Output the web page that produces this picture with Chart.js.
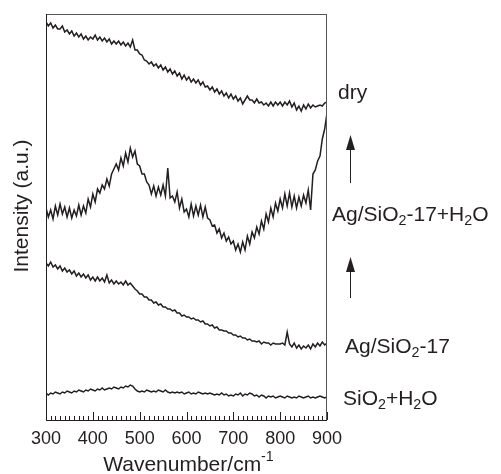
<!DOCTYPE html>
<html>
<head>
<meta charset="utf-8">
<script src="https://cdn.jsdelivr.net/npm/chart.js@4.4.1/dist/chart.umd.min.js"></script>
<style>
  body { margin: 0; background: #fff; }
  canvas { display: block; }
</style>
</head>
<body>
<canvas id="chart" width="501" height="474"></canvas>
<script>
// wavenumber grid (cm-1), one point every 5
const wavenumbers = [
  300,305,310,315,320,325,330,335,340,345,350,355,360,365,370,375,380,385,390,395,
  400,405,410,415,420,425,430,435,440,445,450,455,460,465,470,475,480,485,490,495,
  500,505,510,515,520,525,530,535,540,545,550,555,560,565,570,575,580,585,590,595,
  600,605,610,615,620,625,630,635,640,645,650,655,660,665,670,675,680,685,690,695,
  700,705,710,715,720,725,730,735,740,745,750,755,760,765,770,775,780,785,790,795,
  800,805,810,815,820,825,830,835,840,845,850,855,860,865,870,875,880,885,890,895,
  900
];

// intensities, arbitrary units (stacked offsets already included)
const dry = [
  398,394,397,392,395,391,391,394,388,390,386,389,384,387,383,386,381,384,380,383,
  381,385,380,383,379,382,378,381,376,379,376,379,375,378,374,377,373,380,370,370,
  366,365,360,359,356,358,354,356,352,355,350,353,348,351,346,349,344,347,341,345,
  340,343,338,341,337,340,335,338,333,334,330,333,328,331,326,329,324,327,322,326,
  321,324,319,322,316,320,324,320,320,317,321,317,318,315,317,314,318,314,318,315,
  318,314,318,315,319,313,317,310,314,309,315,311,316,312,315,313,314,315,314,317,
  318
];
const agSiO2Water = [
  212,203,210,201,214,205,216,206,213,203,212,202,210,204,215,205,214,207,221,213,
  226,218,231,227,235,231,241,234,246,251,256,250,262,254,267,258,272,263,269,256,
  254,246,246,238,235,226,234,224,233,225,235,224,252,222,224,218,228,212,221,208,
  211,203,216,204,214,205,215,203,213,202,200,194,195,187,191,182,187,179,183,176,
  179,170,176,168,178,170,184,176,188,182,193,186,199,191,206,198,212,203,217,209,
  221,212,226,214,227,213,224,212,223,214,225,217,230,210,246,250,259,264,281,291,
  307
];
const agSiO2 = [
  157,154,158,153,155,151,154,149,152,148,150,146,149,144,147,143,146,142,145,140,
  143,139,143,139,142,138,145,137,140,136,139,136,138,135,139,135,137,134,131,129,
  126,126,123,123,120,120,117,118,115,116,113,113,111,111,109,110,107,107,104,105,
  103,103,101,102,100,100,98,99,96,96,94,95,92,93,90,90,89,89,87,87,
  85,85,83,84,82,82,80,81,79,79,78,79,76,78,77,77,75,77,76,76,
  76,77,75,88,76,73,77,72,75,71,74,72,75,71,76,73,77,74,78,75,
  77
];
const sio2Water = [
  27,25,27,26,28,27,26,28,27,29,28,27,29,28,30,29,28,30,29,31,
  30,29,31,30,32,30,31,32,31,33,32,31,33,32,34,33,35,34,31,29,
  28,29,28,30,29,28,29,28,30,29,28,30,28,27,28,27,28,27,28,26,
  27,28,26,27,26,28,27,26,27,26,27,26,25,26,25,27,25,26,24,25,
  24,26,25,27,24,26,25,27,26,24,25,23,25,24,22,24,23,24,22,23,
  24,23,22,24,23,22,23,22,24,23,22,23,24,22,23,22,23,24,23,22,
  23
];

const xTickLabels = [300, 400, 500, 600, 700, 800, 900];
const xMinorStep = 10;

// right-hand labels: text segments, y value where they sit
const curveLabels = [
  { parts: [['dry']], y: 327, dx: 11 },
  { parts: [['Ag/SiO'], ['2', 'sub'], ['-17+H'], ['2', 'sub'], ['O']], y: 205, dx: 5 },
  { parts: [['Ag/SiO'], ['2', 'sub'], ['-17']], y: 73, dx: 18 },
  { parts: [['SiO'], ['2', 'sub'], ['+H'], ['2', 'sub'], ['O']], y: 21, dx: 16 }
];
// arrows between labels (y values: from -> to)
const arrows = [
  { from: 237, to: 285 },
  { from: 122, to: 163 }
];

const FONT = '"Liberation Sans", Arial, sans-serif';
const INK = '#231f20';
const LABEL_SIZE = 21;

function toPoints(ys) {
  return wavenumbers.map((w, i) => ({ x: w, y: ys[i] }));
}

function drawParts(ctx, parts, x, y, size) {
  let cx = x;
  parts.forEach(([t, kind]) => {
    let s = size, dy = 0;
    if (kind === 'sub') { s = size * 0.68; dy = size * 0.28; }
    if (kind === 'sup') { s = size * 0.68; dy = -size * 0.38; }
    ctx.font = s + 'px ' + FONT;
    ctx.fillText(t, cx, y + dy);
    cx += ctx.measureText(t).width;
  });
  return cx - x;
}

function measureParts(ctx, parts, size) {
  let w = 0;
  parts.forEach(([t, kind]) => {
    const s = kind ? size * 0.68 : size;
    ctx.font = s + 'px ' + FONT;
    w += ctx.measureText(t).width;
  });
  return w;
}

const decorations = {
  id: 'decorations',
  afterDraw(chart) {
    const ctx = chart.ctx;
    const area = chart.chartArea;
    const xs = chart.scales.x;
    const ys = chart.scales.y;
    ctx.save();

    // frame
    ctx.strokeStyle = '#555';
    ctx.lineWidth = 1;
    ctx.strokeRect(area.left + 0.5, area.top + 0.5, area.right - area.left - 1, area.bottom - area.top);
    ctx.strokeStyle = INK;
    ctx.beginPath();
    ctx.moveTo(area.left + 0.5, area.top);
    ctx.lineTo(area.left + 0.5, area.bottom + 0.5);
    ctx.lineTo(area.right, area.bottom + 0.5);
    ctx.stroke();

    // inward ticks on the x axis
    ctx.beginPath();
    for (let w = xs.min; w <= xs.max; w += xMinorStep) {
      const px = Math.round(xs.getPixelForValue(w)) + 0.5;
      const len = (w % 100 === 0) ? 8 : 4;
      ctx.moveTo(px, area.bottom);
      ctx.lineTo(px, area.bottom - len);
    }
    ctx.stroke();

    // tick labels
    ctx.fillStyle = INK;
    ctx.font = '18px ' + FONT;
    ctx.textAlign = 'center';
    ctx.textBaseline = 'middle';
    xTickLabels.forEach(v => {
      ctx.fillText(String(v), xs.getPixelForValue(v), area.bottom + 19);
    });

    // x title with superscript
    ctx.textAlign = 'left';
    const xTitle = [['Wavenumber/cm'], ['-1', 'sup']];
    const tw = measureParts(ctx, xTitle, LABEL_SIZE);
    drawParts(ctx, xTitle, (area.left + area.right) / 2 - tw / 2 + 2, area.bottom + 45, LABEL_SIZE);

    // y title
    ctx.save();
    ctx.translate(22, (area.top + area.bottom) / 2 - 11);
    ctx.rotate(-Math.PI / 2);
    ctx.textAlign = 'center';
    ctx.font = LABEL_SIZE + 'px ' + FONT;
    ctx.fillText('Intensity (a.u.)', 0, 0);
    ctx.restore();

    // curve labels
    ctx.textAlign = 'left';
    curveLabels.forEach(l => {
      drawParts(ctx, l.parts, area.right + l.dx, ys.getPixelForValue(l.y), LABEL_SIZE);
    });

    // arrows
    const ax = area.right + 23.5;
    ctx.strokeStyle = INK;
    ctx.lineWidth = 1;
    arrows.forEach(a => {
      const y0 = ys.getPixelForValue(a.from);
      const y1 = ys.getPixelForValue(a.to);
      ctx.beginPath();
      ctx.moveTo(ax, y0);
      ctx.lineTo(ax, y1 + 12);
      ctx.stroke();
      ctx.beginPath();
      ctx.moveTo(ax, y1);
      ctx.lineTo(ax - 4.5, y1 + 15);
      ctx.lineTo(ax + 4.5, y1 + 15);
      ctx.closePath();
      ctx.fill();
    });

    ctx.restore();
  }
};

function series(ys) {
  return {
    data: toPoints(ys),
    borderColor: INK,
    borderWidth: 1.5,
    pointRadius: 0,
    tension: 0,
    fill: false
  };
}

new Chart(document.getElementById('chart'), {
  type: 'line',
  data: {
    datasets: [series(dry), series(agSiO2Water), series(agSiO2), series(sio2Water)]
  },
  options: {
    responsive: false,
    animation: false,
    devicePixelRatio: 1,
    layout: { padding: { left: 46, right: 174, top: 14, bottom: 54 } },
    plugins: { legend: { display: false }, tooltip: { enabled: false } },
    scales: {
      x: { type: 'linear', min: 300, max: 900, display: false },
      y: { min: 0, max: 406, display: false }
    }
  },
  plugins: [decorations]
});
</script>
</body>
</html>
